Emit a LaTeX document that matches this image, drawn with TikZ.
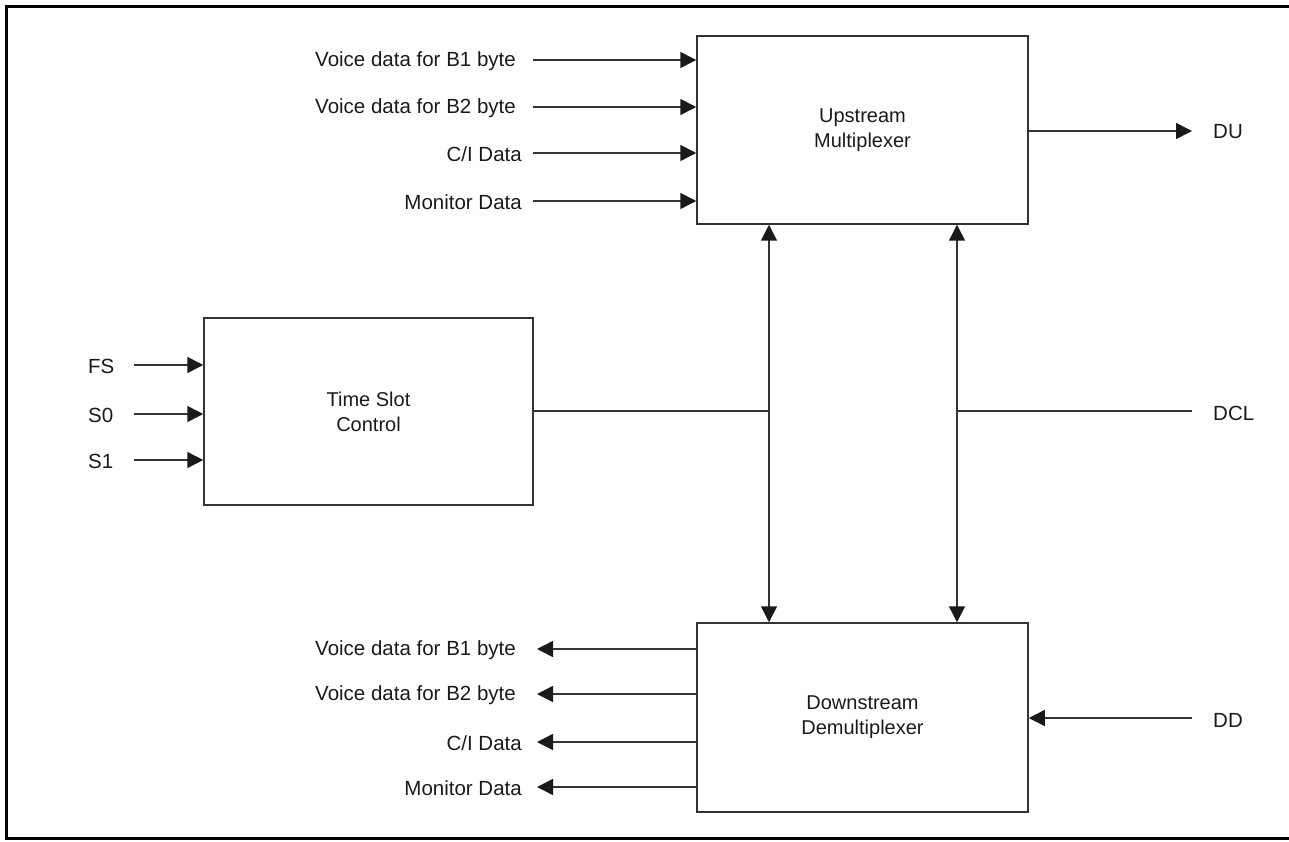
\documentclass[tikz,border=0pt]{standalone}
\usepackage{fontspec}
\setmainfont{Liberation Sans}
\usetikzlibrary{arrows.meta}
\definecolor{ln}{HTML}{333333}
\definecolor{tx}{HTML}{1a1a1a}
\definecolor{ah}{HTML}{1a1a1a}
\begin{document}
\begin{tikzpicture}[x=1pt,y=-1pt,
  blk/.style={draw=ln,line width=1.5pt,minimum width=331pt,minimum height=188pt,inner sep=0pt,align=center,text=tx,font=\fontsize{20}{25}\selectfont},
  lbl/.style={text=tx,font=\fontsize{20.5}{23}\selectfont,inner sep=0pt},
  wire/.style={draw=ln,line width=1.5pt},
  tip/.tip={Triangle[length=16pt,width=16pt,color=ah]},
  arr/.style={wire,-tip},
  darr/.style={wire,tip-tip}]
\useasboundingbox (0,0) rectangle (1289,842);
\draw[line width=3pt,black] (1289,6.5) -- (6.5,6.5) -- (6.5,838.5) -- (1289,838.5);

\node[blk] (up) at (862.5,130) {Upstream\\Multiplexer};
\node[blk,minimum width=329pt,minimum height=187pt] (tsc) at (368.5,411.5) {Time Slot\\Control};
\node[blk,minimum height=189pt] (down) at (862.5,717.5) {Downstream\\Demultiplexer};

% upstream inputs
\foreach \y/\t/\n/\xe in {60/{Voice data for B1 byte}/ua/516,107/{Voice data for B2 byte}/ub/516,153/{C/I Data}/uc/522,201/{Monitor Data}/ud/522}{
  \node[lbl,anchor=east] (\n) at (\xe,\y+1) {\t};
  \coordinate (\n s) at (533,\y);
  \draw[arr] (\n s) -- (up.west |- \n s);
}
% downstream outputs
\foreach \y/\t/\n/\xe in {649/{Voice data for B1 byte}/da/516,694/{Voice data for B2 byte}/db/516,742/{C/I Data}/dc/522,787/{Monitor Data}/dd/522}{
  \node[lbl,anchor=east] (\n) at (\xe,\y+1) {\t};
  \coordinate (\n s) at (537,\y);
  \draw[arr] (down.west |- \n s) -- (\n s);
}
% time slot inputs
\foreach \y/\t/\n in {365/FS/fs,414/S0/sa,460/S1/sb}{
  \node[lbl,anchor=west] (\n) at (88,\y+1) {\t};
  \coordinate (\n s) at (134,\y);
  \draw[arr] (\n s) -- (tsc.west |- \n s);
}
% DU
\node[lbl,anchor=west] (du) at (1213,132) {DU};
\coordinate (dut) at (1192,131);
\draw[arr] (up.east |- dut) -- (dut);
% DD
\node[lbl,anchor=west] (ddl) at (1213,720) {DD};
\coordinate (dds) at (1192,718);
\draw[arr] (dds) -- (down.east |- dds);
% vertical bus arrows
\coordinate (v1) at (769,411);
\coordinate (v2) at (957,411);
\draw[darr] (up.south -| v1) -- (down.north -| v1);
\draw[darr] (up.south -| v2) -- (down.north -| v2);
\draw[wire] (tsc.east |- v1) -- (v1);
% DCL
\node[lbl,anchor=west] (dcl) at (1213,413) {DCL};
\coordinate (dcle) at (1192,411);
\draw[wire] (v2) -- (dcle);
\end{tikzpicture}
\end{document}
